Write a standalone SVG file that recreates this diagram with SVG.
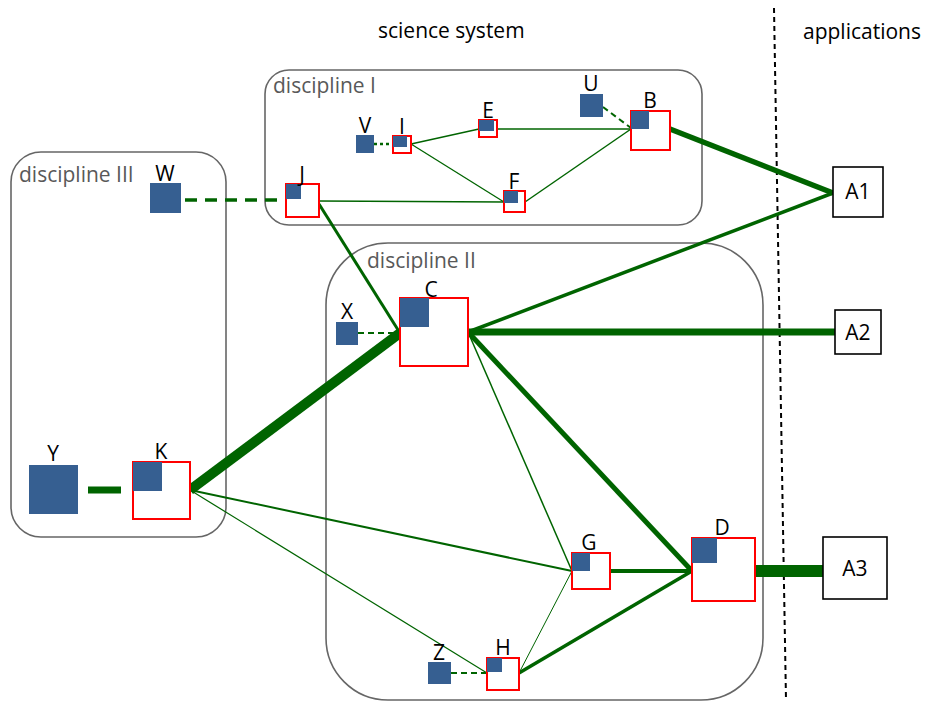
<svg xmlns="http://www.w3.org/2000/svg" width="925" height="702" viewBox="0 0 925 702">
<style>
text{font-family:"Open Sans","Noto Sans","Liberation Sans",sans-serif;font-size:21px;fill:#000}
.grp{fill:none;stroke:#666;stroke-width:1.6}
.gl{fill:#595959}
.red{fill:#fff;stroke:#f00;stroke-width:2}
.blue{fill:#365f91}
.app{fill:#fff;stroke:#000;stroke-width:1.6}
.c{stroke:#006400;fill:none}
.dash{stroke-dasharray:6 4}
.lbl{text-anchor:middle}
</style>
<rect width="925" height="702" fill="#fff"/>
<g id="groups">
  <rect class="grp" x="265" y="70" width="437" height="155" rx="24"/>
  <rect class="grp" x="11" y="152" width="215" height="385" rx="30"/>
  <rect class="grp" x="326" y="243" width="437" height="457" rx="62"/>
  <line x1="774" y1="8" x2="786" y2="700" stroke="#000" stroke-width="2" stroke-dasharray="5 4"/>
</g>
<g id="titles">
  <text x="378" y="38">science system</text>
  <text x="803" y="39">applications</text>
  <text class="gl" x="273" y="93">discipline I</text>
  <text class="gl" x="19" y="182">discipline III</text>
  <text class="gl" x="367" y="268">discipline II</text>
</g>
<g id="connectors">
  <line class="c" x1="374" y1="144" x2="393" y2="144" stroke="#5f9f5f" stroke-width="2.5" stroke-dasharray="3 3"/>
  <line class="c dash" x1="603" y1="107" x2="631" y2="128" stroke-width="2"/>
  <line class="c" x1="411" y1="144" x2="479" y2="129" stroke-width="1.5"/>
  <line class="c" x1="411" y1="144" x2="504" y2="202" stroke-width="1.3"/>
  <line class="c" x1="497" y1="129" x2="631" y2="129" stroke-width="1.3"/>
  <line class="c" x1="525" y1="202" x2="631" y2="129" stroke-width="1.5"/>
  <line class="c" x1="319" y1="201" x2="504" y2="202" stroke-width="1.5"/>
  <line class="c" x1="185" y1="200" x2="286" y2="200" stroke-width="3.5" stroke-dasharray="12 8"/>
  <line class="c" x1="319" y1="204" x2="400" y2="333" stroke-width="3"/>
  <line class="c" x1="670" y1="129" x2="833" y2="193" stroke-width="5.5"/>
  <line class="c" x1="468" y1="332" x2="833" y2="193" stroke-width="3.5"/>
  <line class="c" x1="468" y1="332" x2="835" y2="332" stroke-width="7"/>
  <line class="c dash" x1="358" y1="333" x2="400" y2="333" stroke-width="2"/>
  <line class="c" x1="190" y1="490" x2="400" y2="333" stroke-width="10"/>
  <line class="c" x1="88" y1="490" x2="121" y2="490" stroke-width="7"/>
  <line class="c" x1="468" y1="332" x2="572" y2="571" stroke-width="1.5"/>
  <line class="c" x1="468" y1="332" x2="692" y2="571" stroke-width="5"/>
  <line class="c" x1="190" y1="490" x2="572" y2="571" stroke-width="2"/>
  <line class="c" x1="190" y1="490" x2="487" y2="673" stroke-width="1.2"/>
  <line class="c" x1="572" y1="571" x2="519" y2="673" stroke-width="1"/>
  <line class="c" x1="610" y1="571" x2="692" y2="571" stroke-width="4"/>
  <line class="c" x1="519" y1="673" x2="692" y2="571" stroke-width="3.5"/>
  <line class="c" x1="755" y1="571" x2="823" y2="571" stroke-width="12"/>
  <line class="c dash" x1="451" y1="673" x2="487" y2="673" stroke-width="2"/>
</g>
<g id="node-I"><rect class="red" x="393" y="136" width="18" height="17"/><rect class="blue" x="393" y="136" width="14" height="11"/><text class="lbl" x="402" y="134">I</text></g>
<g id="node-E"><rect class="red" x="479" y="120" width="18" height="17"/><rect class="blue" x="479" y="120" width="15" height="11"/><text class="lbl" x="488" y="118">E</text></g>
<g id="node-F"><rect class="red" x="504" y="191" width="21" height="21"/><rect class="blue" x="504" y="191" width="14" height="12"/><text class="lbl" x="514" y="189">F</text></g>
<g id="node-B"><rect class="red" x="631" y="111" width="39" height="39"/><rect class="blue" x="631" y="111" width="18" height="18"/><text class="lbl" x="650" y="108">B</text></g>
<g id="node-J"><rect class="red" x="286" y="184" width="33" height="33"/><rect class="blue" x="286" y="184" width="15" height="15"/><text class="lbl" x="302" y="182">J</text></g>
<g id="node-K"><rect class="red" x="133" y="462" width="57" height="57"/><rect class="blue" x="133" y="462" width="29" height="29"/><text class="lbl" x="161" y="459">K</text></g>
<g id="node-C"><rect class="red" x="400" y="298" width="68" height="68"/><rect class="blue" x="400" y="298" width="29" height="29"/><text class="lbl" x="431" y="297">C</text></g>
<g id="node-G"><rect class="red" x="572" y="553" width="38" height="36"/><rect class="blue" x="572" y="553" width="18" height="18"/><text class="lbl" x="589" y="550">G</text></g>
<g id="node-D"><rect class="red" x="692" y="538" width="63" height="63"/><rect class="blue" x="692" y="538" width="25" height="25"/><text class="lbl" x="722" y="535">D</text></g>
<g id="node-H"><rect class="red" x="487" y="658" width="32" height="32"/><rect class="blue" x="487" y="658" width="15" height="14"/><text class="lbl" x="503" y="655">H</text></g>
<g id="node-V"><rect class="blue" x="356" y="135" width="18" height="18"/><text class="lbl" x="365" y="133">V</text></g>
<g id="node-U"><rect class="blue" x="580" y="94" width="23" height="23"/><text class="lbl" x="591" y="91">U</text></g>
<g id="node-W"><rect class="blue" x="150" y="183" width="31" height="30"/><text class="lbl" x="165" y="181">W</text></g>
<g id="node-Y"><rect class="blue" x="29" y="465" width="49" height="49"/><text class="lbl" x="53" y="461">Y</text></g>
<g id="node-X"><rect class="blue" x="336" y="322" width="22" height="23"/><text class="lbl" x="347" y="319">X</text></g>
<g id="node-Z"><rect class="blue" x="428" y="662" width="23" height="22"/><text class="lbl" x="439" y="660">Z</text></g>
<g id="node-A1"><rect class="app" x="833" y="167" width="50" height="50"/><text class="lbl" x="858" y="199">A1</text></g>
<g id="node-A2"><rect class="app" x="835" y="310" width="46" height="44"/><text class="lbl" x="858" y="340">A2</text></g>
<g id="node-A3"><rect class="app" x="823" y="537" width="64" height="62"/><text class="lbl" x="855" y="576">A3</text></g>
</svg>
